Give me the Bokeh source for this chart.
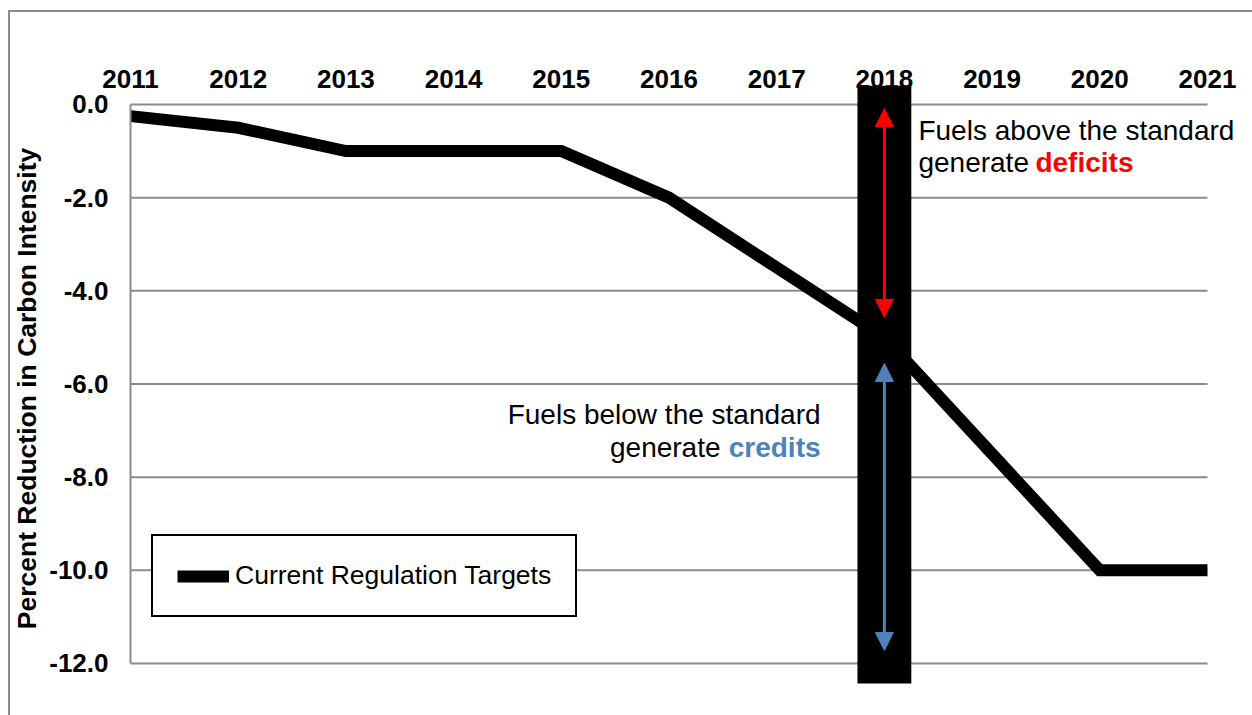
from bokeh.plotting import figure
from bokeh.models import (Range1d, FixedTicker, PrintfTickFormatter, Arrow,
                          NormalHead, Label, Legend, LegendItem)
from bokeh.embed import file_html
from bokeh.resources import INLINE

# ---- data ----
years = [2011, 2012, 2013, 2014, 2015, 2016, 2017, 2018, 2019, 2020, 2021]
targets = [-0.25, -0.5, -1.0, -1.0, -1.0, -2.0, -3.5, -5.0, -7.5, -10.0, -10.0]
y_ticks = [0, -2, -4, -6, -8, -10, -12]
series_name = "Current Regulation Targets"
highlight_year = 2018
deficit_span = (-4.57, -0.09)   # red arrow extent
credit_span = (-11.72, -5.56)   # blue arrow extent

FONT = "Liberation Sans"
GRID = "#8c8c8c"

p = figure(width=1252, height=715,
           x_range=Range1d(2011, 2021.418), y_range=Range1d(-12.58, 0.386),
           x_axis_location="above",
           output_backend="svg", toolbar_location=None,
           min_border_left=130, min_border_right=0,
           min_border_top=86, min_border_bottom=25)
p.styles = {
    "background-image": "linear-gradient(#8c8c8c, #8c8c8c), linear-gradient(#8c8c8c, #8c8c8c)",
    "background-position": "8px 10px, 8px 10px",
    "background-size": "2px 100%, 100% 2px",
    "background-repeat": "no-repeat",
}
p.outline_line_color = None
p.background_fill_color = "white"
p.border_fill_alpha = 0.0

# grid (horizontal lines spanning only the year extent)
p.xgrid.visible = False
p.ygrid.visible = False
n = len(y_ticks)
p.segment(x0=[years[0]] * n, y0=y_ticks, x1=[years[-1]] * n, y1=y_ticks,
          line_color=GRID, line_width=2, level="underlay")

# y axis
yax = p.yaxis[0]
yax.ticker = FixedTicker(ticks=y_ticks)
yax.bounds = (y_ticks[-1], y_ticks[0])
yax.formatter = PrintfTickFormatter(format="%.1f")
yax.axis_line_color = GRID
yax.axis_line_width = 2
yax.major_tick_line_color = None
yax.minor_tick_line_color = None
yax.major_tick_out = 0
yax.major_tick_in = 0
yax.major_label_standoff = 22
yax.major_label_text_font = FONT
yax.major_label_text_font_style = "bold"
yax.major_label_text_font_size = "26px"
yax.major_label_text_color = "black"
yax.axis_label = "Percent Reduction in Carbon Intensity"
yax.axis_label_text_font = FONT
yax.axis_label_text_font_style = "bold"
yax.axis_label_text_font_size = "26.5px"
yax.axis_label_text_color = "black"
yax.axis_label_standoff = 4

# x axis (top)
xax = p.xaxis[0]
xax.ticker = FixedTicker(ticks=years)
xax.axis_line_color = None
xax.major_tick_line_color = None
xax.minor_tick_line_color = None
xax.major_tick_out = 0
xax.major_tick_in = 0
xax.major_label_standoff = -1
xax.major_label_text_font = FONT
xax.major_label_text_font_style = "bold"
xax.major_label_text_font_size = "26px"
xax.major_label_text_color = "black"

# main series
r = p.line(years, targets, line_width=12, line_color="black", line_join="miter")

# highlight bar at 2018
bar_half = 0.25
p.quad(left=[highlight_year - bar_half], right=[highlight_year + bar_half],
       top=[0.4], bottom=[-12.43], fill_color="black", line_color=None,
       level="overlay")

# arrows
for span, col in [(deficit_span, "#ff0000"), (credit_span, "#4f81bd")]:
    a = Arrow(x_start=highlight_year, y_start=span[0],
              x_end=highlight_year, y_end=span[1],
              start=NormalHead(size=18, fill_color=col, line_color=col),
              end=NormalHead(size=18, fill_color=col, line_color=col),
              line_color=col, line_width=3, level="overlay")
    p.add_layout(a)

# annotations
def lab(x, y, text, color="black", bold=False, align="left", xoff=0):
    p.add_layout(Label(x=x, y=y, text=text, x_offset=xoff,
                       text_font=FONT, text_font_size="28px",
                       text_font_style="bold" if bold else "normal",
                       text_color=color, text_align=align,
                       text_baseline="alphabetic"))

ax_x = 2018.316
lab(ax_x, -0.55, "Fuels above the standard")
lab(ax_x, -1.235, "generate")
lab(ax_x, -1.235, "deficits", color="#ff0000", bold=True, xoff=117)

bx_x = 2017.407
lab(bx_x, -6.66, "Fuels below the standard", align="right")
lab(bx_x, -7.37, "credits", color="#4f81bd", bold=True, align="right")
lab(bx_x, -7.37, "generate", align="right", xoff=-100)

# legend
legend = Legend(items=[LegendItem(label=series_name, renderers=[r])],
                location=(21, 73), orientation="vertical",
                border_line_color="black", border_line_width=2,
                border_line_alpha=1.0,
                background_fill_color="white", background_fill_alpha=1.0,
                label_text_font=FONT, label_text_font_size="26.5px",
                label_text_color="black",
                glyph_width=52, glyph_height=20, label_height=20,
                label_standoff=6, padding=24, margin=0)
p.add_layout(legend)

open("out.html", "w").write(file_html(p, INLINE))
